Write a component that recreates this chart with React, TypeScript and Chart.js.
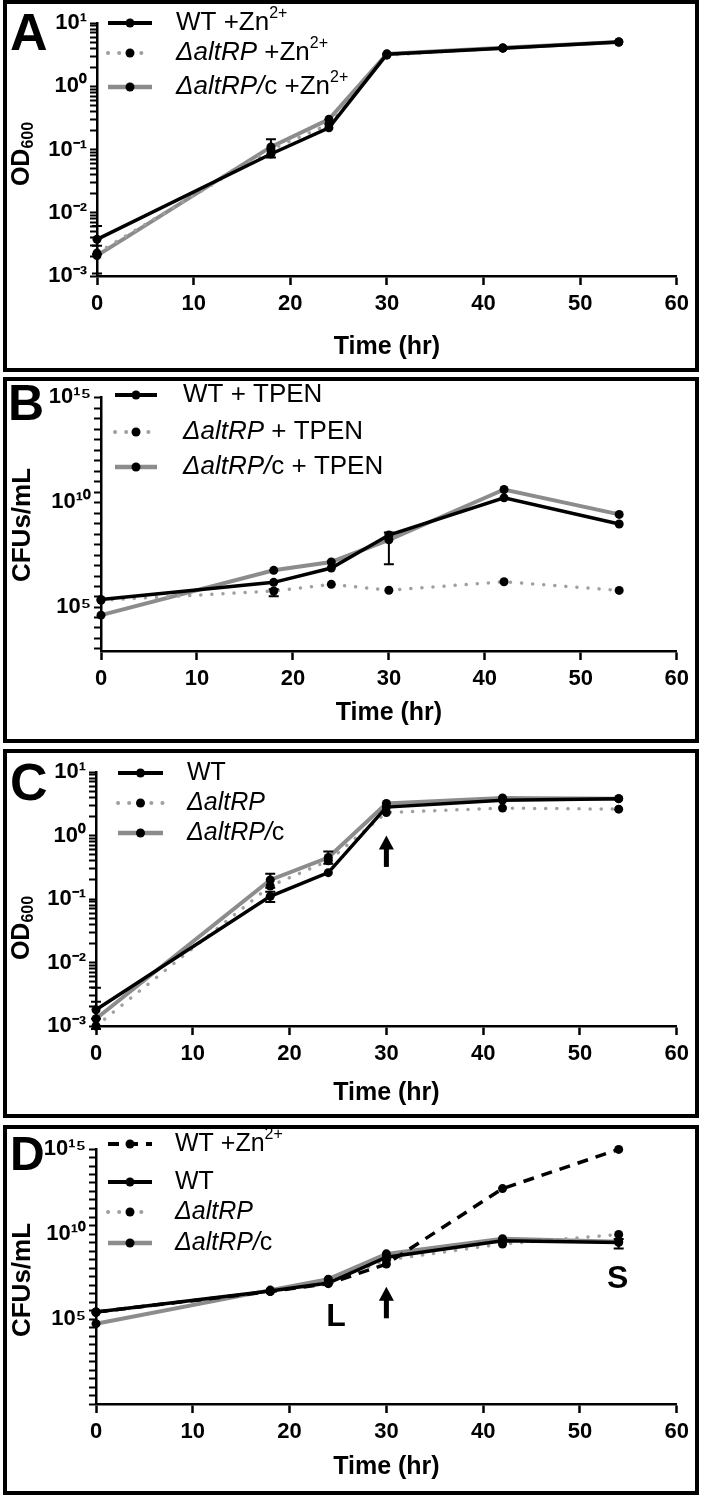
import React, { useEffect, useRef } from "react";
import { Chart, registerables } from "chart.js";

Chart.register(...registerables);
Chart.defaults.font.family = "'Liberation Sans', Arial, Helvetica, sans-serif";
Chart.defaults.color = "#000";

const FONT = "'Liberation Sans', Arial, Helvetica, sans-serif";

// ---------- data ----------
const hours = [0, 18, 24, 30, 42, 54];
const xTicks = [0, 10, 20, 30, 40, 50, 60];

// A: OD600 with Zn2+
const odZnWT = [0.0038, 0.085, 0.22, 3.2, 4.0, 5.0];
const odZnMut = [0.0023, 0.1, 0.25, 3.1, 4.0, 5.0];
const odZnComp = [0.0021, 0.11, 0.3, 3.25, 4.05, 5.0];
const odZnWTErr = [[0.0022, 0.0062], null, null, null, null, null];
const odZnCompErr = [[0.0011, 0.003], [0.075, 0.145], null, null, null, null];

// B: CFUs/mL with TPEN
const cfuTpenWT = [2.3e5, 1.5e6, 7.2e6, 2.7e8, 1.6e10, 9e8];
const cfuTpenMut = [2.1e5, 5.8e5, 1.2e6, 6.3e5, 1.6e6, 6.2e5];
const cfuTpenComp = [4.1e4, 5.6e6, 1.4e7, 1.6e8, 4e10, 2.6e9];
const cfuTpenWTErr = [null, null, null, [1.1e7, 3.6e8], null, null];
const cfuTpenMutErr = [null, [3.3e5, 7e5], null, null, null, null];

// C: OD600
const odWT = [0.0018, 0.11, 0.26, 2.8, 3.6, 3.8];
const odMut = [0.001, 0.16, 0.4, 2.3, 2.7, 2.6];
const odComp = [0.0013, 0.2, 0.45, 3.2, 3.9, 3.8];
const odWTErr = [[0.0013, 0.0024], [0.09, 0.13], null, null, null, null];
const odCompErr = [[0.0009, 0.004], [0.15, 0.25], [0.36, 0.56], null, null, null];

// D: CFUs/mL
const cfuZnWT = [2.6e5, 4.1e6, 1.2e7, 1.7e8, 4.7e12, 9.5e14];
const cfuWT = [2.6e5, 4.5e6, 1.3e7, 4.3e8, 4e9, 3.2e9];
const cfuMut = [2.4e5, 4.2e6, 1.5e7, 3.0e8, 2.6e9, 9.3e9];
const cfuComp = [5.3e4, 5e6, 2.2e7, 6.8e8, 5.3e9, 3.5e9];
const cfuWTErr = [null, null, null, null, null, [1.4e9, 5e9]];

// ---------- styles ----------
const lineStyles: Record<string, any> = {
  wt: { borderColor: "#000", borderWidth: 3.5, borderDash: [], borderCapStyle: "butt" },
  wtzn: { borderColor: "#000", borderWidth: 3.5, borderDash: [11, 8], borderCapStyle: "butt" },
  mut: { borderColor: "#a0a0a0", borderWidth: 3.5, borderDash: [0.1, 11], borderCapStyle: "round" },
  comp: { borderColor: "#8c8c8c", borderWidth: 4, borderDash: [], borderCapStyle: "butt" },
};

const panels = [
  {
    letter: "A", letterSize: 52, letterPos: [3, 46],
    top: 0, height: 372,
    area: { l: 90, r: 672, t: 19, b: 272 },
    yMin: 1e-3, yMax: 10, yMinExp: -3, yMaxExp: 1, yLabelExps: [-3, -2, -1, 0, 1], yMinor: [2, 3, 4, 5, 6, 7, 8, 9],
    yTitle: "OD₆₀₀", yTitlePos: [15, 150], yTitleSize: 25,
    xTitlePad: 6,
    legend: { x0: 101, x1: 145, tx: 169, rows: [19, 49, 83], size: 26 },
    series: [
      { label: "WT +Zn²⁺", values: odZnWT, err: odZnWTErr, style: "wt" },
      { label: "ΔaltRP +Zn²⁺", values: odZnMut, style: "mut" },
      { label: "ΔaltRP/c +Zn²⁺", values: odZnComp, err: odZnCompErr, style: "comp" },
    ],
  },
  {
    letter: "B", letterSize: 50, letterPos: [1, 39],
    top: 377, height: 366,
    area: { l: 94, r: 672, t: 14, b: 270 },
    yMin: 800, yMax: 1e15, yMinExp: 3, yMaxExp: 15, yLabelExps: [5, 10, 15], yMinor: [3],
    yTitle: "CFUs/mL", yTitlePos: [16, 144], yTitleSize: 26,
    xTitlePad: 11,
    legend: { x0: 108, x1: 150, tx: 176, rows: [14, 51, 86], size: 26 },
    series: [
      { label: "WT + TPEN", values: cfuTpenWT, err: cfuTpenWTErr, style: "wt" },
      { label: "ΔaltRP + TPEN", values: cfuTpenMut, err: cfuTpenMutErr, style: "mut" },
      { label: "ΔaltRP/c + TPEN", values: cfuTpenComp, style: "comp" },
    ],
  },
  {
    letter: "C", letterSize: 52, letterPos: [3, 47],
    top: 749, height: 369,
    area: { l: 89, r: 672, t: 19, b: 273 },
    yMin: 1e-3, yMax: 10, yMinExp: -3, yMaxExp: 1, yLabelExps: [-3, -2, -1, 0, 1], yMinor: [2, 3, 4, 5, 6, 7, 8, 9],
    yTitle: "OD₆₀₀", yTitlePos: [15, 175], yTitleSize: 25,
    xTitlePad: 6,
    legend: { x0: 111, x1: 156, tx: 180, rows: [20, 50, 80], size: 25 },
    series: [
      { label: "WT", values: odWT, err: odWTErr, style: "wt" },
      { label: "ΔaltRP", values: odMut, style: "mut" },
      { label: "ΔaltRP/c", values: odComp, err: odCompErr, style: "comp" },
    ],
    arrow: [30, 0.32, 1.0],
  },
  {
    letter: "D", letterSize: 48, letterPos: [3, 41],
    top: 1125, height: 370,
    area: { l: 89, r: 671, t: 20, b: 275 },
    yMin: 1, yMax: 1e15, yMinExp: 0, yMaxExp: 15, yLabelExps: [5, 10, 15], yMinor: [3],
    yTitle: "CFUs/mL", yTitlePos: [16, 151], yTitleSize: 26,
    xTitlePad: 9,
    legend: { x0: 101, x1: 145, tx: 168, rows: [15, 53, 83, 114], size: 25 },
    series: [
      { label: "WT +Zn²⁺", values: cfuZnWT, style: "wtzn" },
      { label: "WT", values: cfuWT, err: cfuWTErr, style: "wt" },
      { label: "ΔaltRP", values: cfuMut, style: "mut" },
      { label: "ΔaltRP/c", values: cfuComp, style: "comp" },
    ],
    arrow: [30, 1.1e5, 7.8e6],
    marks: [
      { text: "L", x: 24.8, y: 4e4 },
      { text: "S", x: 53.9, y: 6.5e6 },
    ],
  },
];

// ---------- text helpers ----------
const SUP_CHARS = "⁰¹²³⁴⁵⁶⁷⁸⁹";
const toSup = (n: number) =>
  String(n).split("").map((c) => (c === "-" ? "⁻" : SUP_CHARS[+c])).join("");

const SUPS: Record<string, string> = {
  "⁰": "0", "¹": "1", "²": "2", "³": "3", "⁴": "4", "⁵": "5", "⁶": "6", "⁷": "7", "⁸": "8", "⁹": "9", "⁺": "+", "⁻": "-",
};
const SUBS: Record<string, string> = {
  "₀": "0", "₁": "1", "₂": "2", "₃": "3", "₄": "4", "₅": "5", "₆": "6", "₇": "7", "₈": "8", "₉": "9",
};

function toSegs(text: string) {
  const segs: { t: string; italic: boolean; shift: number }[] = [];
  const m = text.match(/^ΔaltRP\/?/);
  const chars = Array.from(text);
  chars.forEach((ch, i) => {
    const italic = !!m && i < m[0].length;
    let shift = 0;
    let c = ch;
    if (SUPS[ch]) { shift = 1; c = SUPS[ch]; }
    else if (SUBS[ch]) { shift = -1; c = SUBS[ch]; }
    const last = segs[segs.length - 1];
    if (last && last.italic === italic && last.shift === shift) last.t += c;
    else segs.push({ t: c, italic, shift });
  });
  return segs;
}

const segFont = (s: any, size: number, bold: boolean) =>
  `${s.italic ? "italic " : ""}${bold ? "bold " : ""}${s.shift ? Math.round(size * 0.62) : size}px ${FONT}`;

function richWidth(ctx: CanvasRenderingContext2D, segs: any[], size: number, bold: boolean) {
  return segs.reduce((w, s) => {
    ctx.font = segFont(s, size, bold);
    return w + ctx.measureText(s.t).width;
  }, 0);
}

function drawRich(ctx: CanvasRenderingContext2D, segs: any[], x: number, y: number, size: number, bold: boolean) {
  ctx.textAlign = "left";
  ctx.textBaseline = "middle";
  let cx = x;
  segs.forEach((s) => {
    ctx.font = segFont(s, size, bold);
    const dy = s.shift > 0 ? -size * 0.36 : s.shift < 0 ? size * 0.26 : 0;
    ctx.fillText(s.t, cx, y + dy);
    cx += ctx.measureText(s.t).width;
  });
}

// ---------- decorations (legend, error bars, titles, arrows) ----------
function decorPlugin(def: any) {
  return {
    id: "decor" + def.letter,
    afterDatasetsDraw(chart: any) {
      const { ctx } = chart;
      const xs = chart.scales.x;
      const ys = chart.scales.y;
      ctx.save();
      ctx.strokeStyle = "#000";
      ctx.lineWidth = 2;
      ctx.setLineDash([]);
      def.series.forEach((s: any) => {
        (s.err || []).forEach((e: number[] | null, i: number) => {
          if (!e) return;
          const px = xs.getPixelForValue(hours[i]);
          const y0 = ys.getPixelForValue(e[0]);
          const y1 = ys.getPixelForValue(e[1]);
          ctx.beginPath();
          ctx.moveTo(px, y0);
          ctx.lineTo(px, y1);
          ctx.moveTo(px - 5, y0);
          ctx.lineTo(px + 5, y0);
          ctx.moveTo(px - 5, y1);
          ctx.lineTo(px + 5, y1);
          ctx.stroke();
        });
      });
      ctx.restore();
    },
    afterDraw(chart: any) {
      const { ctx } = chart;
      const xs = chart.scales.x;
      const ys = chart.scales.y;
      ctx.save();
      ctx.fillStyle = "#000";

      // panel letter
      ctx.font = `bold ${def.letterSize}px ${FONT}`;
      ctx.textAlign = "left";
      ctx.textBaseline = "alphabetic";
      ctx.fillText(def.letter, def.letterPos[0], def.letterPos[1]);

      // y title (rotated)
      const tSegs = toSegs(def.yTitle);
      const tw = richWidth(ctx, tSegs, def.yTitleSize, true);
      ctx.save();
      ctx.translate(def.yTitlePos[0], def.yTitlePos[1]);
      ctx.rotate(-Math.PI / 2);
      drawRich(ctx, tSegs, -tw / 2, 0, def.yTitleSize, true);
      ctx.restore();

      // legend
      const lg = def.legend;
      def.series.forEach((s: any, i: number) => {
        const st = lineStyles[s.style];
        const ry = lg.rows[i];
        ctx.save();
        ctx.strokeStyle = st.borderColor;
        ctx.lineWidth = st.borderWidth + 0.5;
        ctx.lineCap = st.borderCapStyle;
        ctx.setLineDash(st.borderDash);
        ctx.beginPath();
        ctx.moveTo(lg.x0, ry);
        ctx.lineTo(lg.x1, ry);
        ctx.stroke();
        ctx.restore();
        ctx.beginPath();
        ctx.arc((lg.x0 + lg.x1) / 2, ry, 4.5, 0, Math.PI * 2);
        ctx.fill();
        drawRich(ctx, toSegs(s.label), lg.tx, ry, lg.size, false);
      });

      // arrow
      if (def.arrow) {
        const px = xs.getPixelForValue(def.arrow[0]);
        const yb = ys.getPixelForValue(def.arrow[1]);
        const yt = ys.getPixelForValue(def.arrow[2]);
        ctx.fillRect(px - 2.5, yt + 12, 5, yb - yt - 12);
        ctx.beginPath();
        ctx.moveTo(px, yt);
        ctx.lineTo(px + 7.5, yt + 14);
        ctx.lineTo(px - 7.5, yt + 14);
        ctx.closePath();
        ctx.fill();
      }

      // letters on the plot
      (def.marks || []).forEach((m: any) => {
        ctx.font = `bold 32px ${FONT}`;
        ctx.textAlign = "center";
        ctx.textBaseline = "alphabetic";
        ctx.fillText(m.text, xs.getPixelForValue(m.x), ys.getPixelForValue(m.y));
      });
      ctx.restore();
    },
  };
}

function yTickValues(def: any) {
  const out: { value: number }[] = [];
  for (let e = def.yMinExp; e <= def.yMaxExp; e++) {
    out.push({ value: Math.pow(10, e) });
    if (e < def.yMaxExp) def.yMinor.forEach((m: number) => out.push({ value: m * Math.pow(10, e) }));
  }
  return out;
}

const Panel: React.FC<{ def: any }> = ({ def }) => {
  const canvasRef = useRef<HTMLCanvasElement>(null);
  const chartRef = useRef<Chart | null>(null);

  useEffect(() => {
    if (!canvasRef.current) return;
    const W = 688;
    const H = def.height - 8;
    if (chartRef.current) chartRef.current.destroy();

    chartRef.current = new Chart(canvasRef.current, {
      type: "line",
      data: {
        datasets: def.series.map((s: any) => ({
          label: s.label,
          data: s.values.map((v: number, i: number) => ({ x: hours[i], y: v })),
          ...lineStyles[s.style],
          pointRadius: 4.5,
          pointBackgroundColor: "#000",
          pointBorderColor: "#000",
          pointBorderWidth: 0,
          tension: 0,
          clip: false,
        })),
      },
      options: {
        animation: false,
        responsive: true,
        maintainAspectRatio: false,
        layout: { padding: { left: 0, top: def.area.t, right: W - def.area.r, bottom: 0 } },
        plugins: { legend: { display: false }, tooltip: { enabled: false } },
        scales: {
          x: {
            type: "linear",
            min: 0,
            max: 60,
            afterBuildTicks: (s: any) => {
              s.ticks = xTicks.map((v) => ({ value: v }));
            },
            afterFit: (s: any) => {
              s.height = H - def.area.b;
            },
            ticks: { font: { size: 22, weight: "bold" }, padding: 6, color: "#000", autoSkip: false, maxRotation: 0 },
            grid: { display: true, drawOnChartArea: false, drawTicks: true, tickLength: 9, tickWidth: 2.5, tickColor: "#000" },
            border: { display: true, color: "#000", width: 2.5 },
            title: {
              display: true,
              text: "Time (hr)",
              color: "#000",
              font: { size: 25, weight: "bold" },
              padding: { top: 0, bottom: def.xTitlePad },
            },
          },
          y: {
            type: "logarithmic",
            min: def.yMin,
            max: def.yMax,
            afterBuildTicks: (s: any) => {
              s.ticks = yTickValues(def);
            },
            afterFit: (s: any) => {
              s.width = def.area.l;
            },
            ticks: {
              font: { size: 22, weight: "bold" },
              color: "#000",
              padding: 3,
              autoSkip: false,
              callback: (value: any) => {
                const lg = Math.log10(Number(value));
                const e = Math.round(lg);
                if (Math.abs(lg - e) < 1e-6 && def.yLabelExps.includes(e)) return "10" + toSup(e);
                return "";
              },
            },
            grid: { display: true, drawOnChartArea: false, drawTicks: true, tickLength: 7, tickWidth: 2, tickColor: "#000" },
            border: { display: true, color: "#000", width: 2.5 },
          },
        },
      },
      plugins: [decorPlugin(def)],
    } as any);

    return () => {
      if (chartRef.current) {
        chartRef.current.destroy();
        chartRef.current = null;
      }
    };
  }, [def]);

  return (
    <div
      style={{
        position: "absolute",
        left: 3,
        top: def.top,
        width: 696,
        height: def.height,
        border: "4px solid #000",
        boxSizing: "border-box",
        background: "#fff",
      }}
    >
      <div style={{ position: "relative", width: "100%", height: "100%" }}>
        <canvas ref={canvasRef} />
      </div>
    </div>
  );
};

export default function App() {
  return (
    <div style={{ position: "absolute", left: 0, top: 0, width: 702, height: 1495, background: "#fff" }}>
      {panels.map((p) => (
        <Panel key={p.letter} def={p} />
      ))}
    </div>
  );
}
